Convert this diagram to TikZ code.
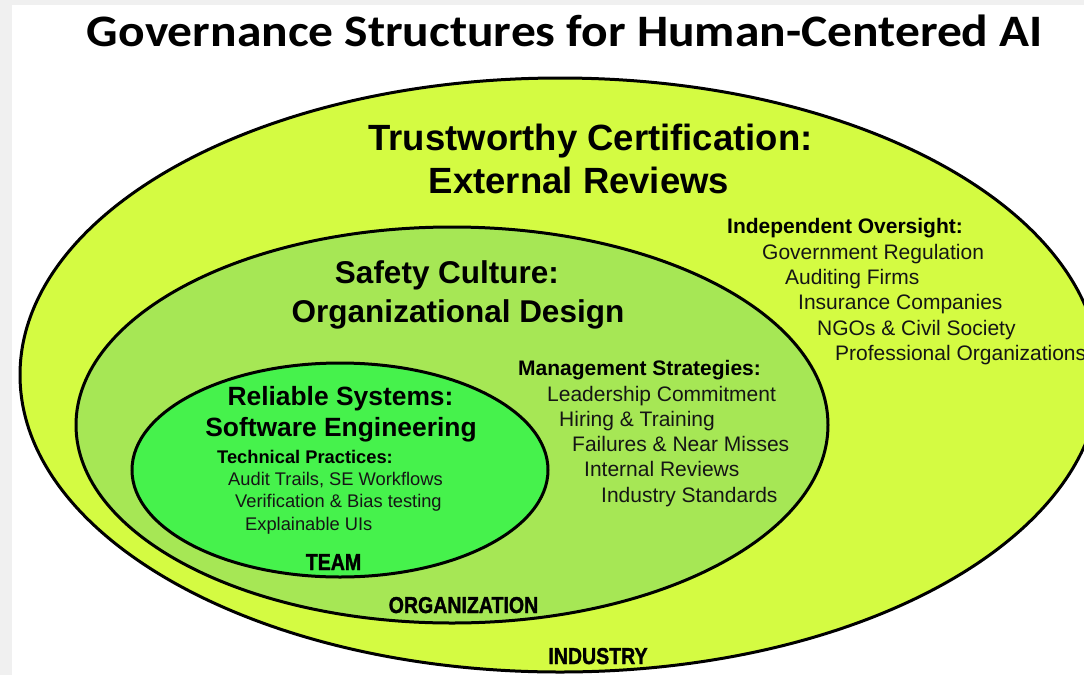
\documentclass[tikz,border=0pt]{standalone}
\usepackage{fontspec}
\setmainfont{Liberation Sans}
\newfontfamily\titlefont{Carlito}
\newfontfamily\levelfont[FakeBold=1.6]{Liberation Sans Bold}
\definecolor{industryfill}{HTML}{D4FB42}
\definecolor{orgfill}{HTML}{A6E755}
\definecolor{teamfill}{HTML}{46F24C}
\definecolor{inktext}{HTML}{151515}
\definecolor{paneledge}{HTML}{F0F0F0}
\newcommand{\levelname}[1]{\scalebox{0.85}[1]{#1}}
\begin{document}
\begin{tikzpicture}[x=1pt,y=-1pt,
  ring/.style={draw=black, line width=3pt},
  heading/.style={inner sep=0pt, anchor=base, text=black,
    font=\bfseries\fontsize{#1}{#1}\selectfont},
  listhead/.style={inner sep=0pt, anchor=base west, text=black,
    font=\bfseries\fontsize{#1}{#1}\selectfont},
  listitem/.style={inner sep=0pt, anchor=base west, text=inktext,
    font=\fontsize{#1}{#1}\selectfont},
  level/.style={inner sep=0pt, anchor=base, text=black,
    font=\levelfont\fontsize{23}{23}\selectfont}]

% page with a light frame on the left and top
\useasboundingbox (0,0) rectangle (1084,675);
\fill[paneledge] (0,0) rectangle (1084,675);
\fill[white] (12,5) rectangle (1084,675);

\node[inner sep=0pt, anchor=base, font=\titlefont\bfseries\fontsize{45}{45}\selectfont]
  (title) at (565,46) {\scalebox{1.1}[1]{Governance Structures for Human-Centered AI}};

\begin{scope}
\clip (0,0) rectangle (1084,675);
% nested levels: industry, organization, team
\draw[ring, fill=industryfill] (560,375) ellipse [x radius=540pt, y radius=297pt];
\draw[ring, fill=orgfill] (452,425) ellipse [x radius=376pt, y radius=198pt];
\draw[ring, fill=teamfill] (340,470) ellipse [x radius=208pt, y radius=107pt];
\end{scope}

% industry level
\node[heading=36.5] (trust) at (590.5,150) {Trustworthy Certification:};
\node[heading=36.5] (external) at (579,193) {External Reviews};
\node[listhead=21] (oversight) at (727,233) {Independent Oversight:};
\node[listitem=21] (gov) at (762,259) {Government Regulation};
\node[listitem=21] (audit) at (785,284) {Auditing Firms};
\node[listitem=21] (insur) at (798,309) {Insurance Companies};
\node[listitem=21] (ngo) at (817,335) {NGOs \& Civil Society};
\node[listitem=21] (prof) at (835,360) {Professional Organizations};

% organization level
\node[heading=31.5] (safety) at (447,283) {Safety Culture:};
\node[heading=31.5] (orgdesign) at (458,322) {Organizational Design};
\node[listhead=21] (mgmt) at (518,375) {Management Strategies:};
\node[listitem=21] (lead) at (547,401) {Leadership Commitment};
\node[listitem=21] (hire) at (559,426) {Hiring \& Training};
\node[listitem=21] (fail) at (572,451) {Failures \& Near Misses};
\node[listitem=21] (intrev) at (584,476) {Internal Reviews};
\node[listitem=21] (std) at (601,502) {Industry Standards};

% team level
\node[heading=26.4] (reliable) at (340.5,405) {Reliable Systems:};
\node[heading=26.4] (softeng) at (341,436) {Software Engineering};
\node[listhead=18.3] (tech) at (217,463) {Technical Practices:};
\node[listitem=18.3] (trails) at (228,485) {Audit Trails, SE Workflows};
\node[listitem=18.3] (verif) at (235,507) {Verification \& Bias testing};
\node[listitem=18.3] (xui) at (245,530) {Explainable UIs};

% level names
\node[level] (team) at (333.5,570) {\levelname{TEAM}};
\node[level] (org) at (463.5,613) {\levelname{ORGANIZATION}};
\node[level] (industry) at (598,664) {\levelname{INDUSTRY}};
\end{tikzpicture}
\end{document}
